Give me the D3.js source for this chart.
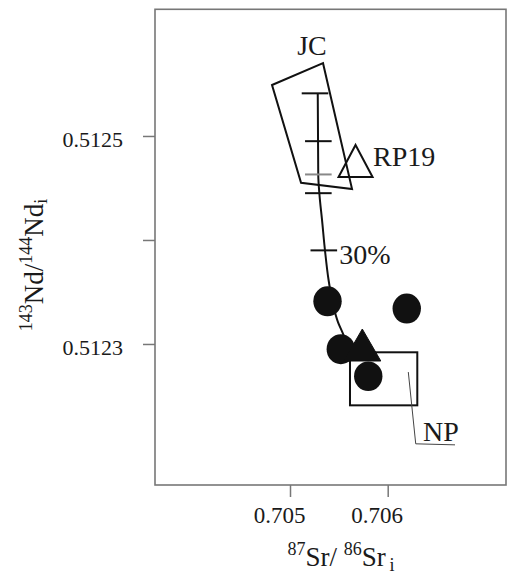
<!DOCTYPE html>
<html>
<head>
<meta charset="utf-8">
<script src="https://cdn.jsdelivr.net/npm/d3@7/dist/d3.min.js"></script>
<style>
  html, body { margin: 0; padding: 0; background: #fff; }
  svg { display: block; }
  text { font-family: "Liberation Serif", "Times New Roman", serif; fill: #1a1a1a; }
</style>
</head>
<body>
<div id="chart"></div>
<script>
// Sr–Nd isotope diagram: 87Sr/86Sr(i) vs 143Nd/144Nd(i)

const xTicks = [0.705, 0.706];
const xTickLabels = ["0.705", "0.706"];
const yTicks = [0.5125, 0.5124, 0.5123];
const yTickLabels = ["0.5125", "", "0.5123"];

// Mixing curve (Sr, Nd)
const mixSr = [0.705284, 0.705289, 0.705302, 0.705328, 0.705358, 0.705394, 0.705440, 0.705491, 0.705546, 0.705583];
const mixNd = [0.512541, 0.512463, 0.512443, 0.512419, 0.512390, 0.512362, 0.512338, 0.512321, 0.512309, 0.512299];

// Increment marks along the mixing curve
const markSr = [0.705256, 0.705290, 0.705290, 0.705290, 0.705346];
const markNd = [0.512541, 0.512495, 0.512463, 0.512445, 0.512390];
const markTone = ["#111", "#111", "#888", "#111", "#111"];

// JC field outline
const jcSr = [0.704816, 0.705338, 0.705635, 0.705113];
const jcNd = [0.512549, 0.512570, 0.512449, 0.512455];

// NP field (rectangle corners)
const npSr = [0.705614, 0.706303];
const npNd = [0.512292, 0.512241];
// NP leader line
const npLeadSr = [0.706211, 0.706287, 0.706689];
const npLeadNd = [0.512273, 0.512204, 0.512203];

// Samples
const circleSr = [0.705384, 0.706195, 0.705520, 0.705801];
const circleNd = [0.512341, 0.512334, 0.512295, 0.512269];
const solidTriSr = [0.705740];
const solidTriNd = [0.512299];
const openTriSr = [0.705671];
const openTriNd = [0.512476];

// Labels
const labelText = ["JC", "RP19", "30%", "NP"];
const labelSr = [0.705225, 0.705850, 0.705505, 0.706361];
const labelNd = [0.512578, 0.512471, 0.512377, 0.512207];
const labelAnchor = ["middle", "start", "start", "start"];

const W = 507, H = 577;
const svg = d3.select("#chart").append("svg").attr("width", W).attr("height", H);

const x = d3.scaleLinear().domain([0.703618, 0.707211]).range([155, 506]);
const y = d3.scaleLinear().domain([0.5121644, 0.5126218]).range([485, 9.3]);

const frameColor = "#777";

// Axes
const gx = svg.append("g").attr("transform", `translate(0,${y.range()[0]})`)
  .call(d3.axisBottom(x).tickValues(xTicks).tickFormat((d, i) => xTickLabels[i]).tickSize(12).tickPadding(10));
gx.select(".domain").remove();
gx.selectAll("line").attr("stroke", frameColor).attr("stroke-width", 1.5);
gx.selectAll("text").attr("font-size", 23).attr("dx", -11).attr("fill", "#1a1a1a")
  .style("font-family", '"Liberation Serif", serif');

const gy = svg.append("g").attr("transform", `translate(${x.range()[0]},0)`)
  .call(d3.axisLeft(y).tickValues(yTicks).tickFormat((d, i) => yTickLabels[i]).tickSize(12).tickPadding(20));
gy.select(".domain").remove();
gy.selectAll("line").attr("stroke", frameColor).attr("stroke-width", 1.5);
gy.selectAll("text").attr("font-size", 22).attr("dy", "0.5em").attr("fill", "#1a1a1a")
  .style("font-family", '"Liberation Serif", serif');

// Frame
svg.append("rect")
  .attr("x", x.range()[0]).attr("y", y.range()[1])
  .attr("width", x.range()[1] - x.range()[0]).attr("height", y.range()[0] - y.range()[1])
  .attr("fill", "none").attr("stroke", frameColor).attr("stroke-width", 1.6);

const plot = svg.append("g");

// JC field
plot.append("path")
  .attr("d", d3.line()(jcSr.map((s, i) => [x(s), y(jcNd[i])])) + "Z")
  .attr("fill", "none").attr("stroke", "#111").attr("stroke-width", 2);

// NP field
plot.append("rect")
  .attr("x", x(npSr[0])).attr("y", y(npNd[0]))
  .attr("width", x(npSr[1]) - x(npSr[0])).attr("height", y(npNd[1]) - y(npNd[0]))
  .attr("fill", "none").attr("stroke", "#111").attr("stroke-width", 2);

plot.append("path")
  .attr("d", d3.line()(npLeadSr.map((s, i) => [x(s), y(npLeadNd[i])])))
  .attr("fill", "none").attr("stroke", "#444").attr("stroke-width", 1);

// Mixing curve
plot.append("path")
  .attr("d", d3.line().curve(d3.curveMonotoneY)(mixSr.map((s, i) => [x(s), y(mixNd[i])])))
  .attr("fill", "none").attr("stroke", "#111").attr("stroke-width", 2);

plot.selectAll("line.mark").data(markSr).join("line")
  .attr("class", "mark")
  .attr("x1", d => x(d) - 13.3).attr("x2", d => x(d) + 13.3)
  .attr("y1", (d, i) => y(markNd[i])).attr("y2", (d, i) => y(markNd[i]))
  .attr("stroke", (d, i) => markTone[i]).attr("stroke-width", 2);

// Open triangle (RP19)
const tri = (cx, cy, hw, h) => `M${cx},${cy - h / 2}L${cx + hw},${cy + h / 2}L${cx - hw},${cy + h / 2}Z`;
plot.selectAll("path.otri").data(openTriSr).join("path")
  .attr("class", "otri")
  .attr("d", (d, i) => tri(x(d), y(openTriNd[i]), 17, 32))
  .attr("fill", "none").attr("stroke", "#111").attr("stroke-width", 2);

// Filled samples
plot.selectAll("ellipse.smp").data(circleSr.slice(0, 3)).join("ellipse")
  .attr("class", "smp")
  .attr("cx", d => x(d)).attr("cy", (d, i) => y(circleNd[i]))
  .attr("rx", 14.2).attr("ry", 15).attr("fill", "#111");

plot.selectAll("path.stri").data(solidTriSr).join("path")
  .attr("class", "stri")
  .attr("d", (d, i) => tri(x(d), y(solidTriNd[i]), 18.5, 32))
  .attr("fill", "#111").attr("stroke", "#111").attr("stroke-width", 1);

plot.selectAll("ellipse.smp2").data(circleSr.slice(3)).join("ellipse")
  .attr("class", "smp2")
  .attr("cx", d => x(d)).attr("cy", (d, i) => y(circleNd[i + 3]))
  .attr("rx", 14.2).attr("ry", 14.8).attr("fill", "#111");

// Labels
plot.selectAll("text.lbl").data(labelText).join("text")
  .attr("class", "lbl")
  .attr("x", (d, i) => x(labelSr[i])).attr("y", (d, i) => y(labelNd[i]))
  .attr("text-anchor", (d, i) => labelAnchor[i])
  .attr("font-size", 28)
  .text(d => d);

// Axis titles
const xt = svg.append("text").attr("x", 341).attr("y", 566).attr("text-anchor", "middle").attr("font-size", 27);
xt.append("tspan").attr("font-size", 18).attr("dy", -11).text("87");
xt.append("tspan").attr("dy", 11).text("Sr/ ");
xt.append("tspan").attr("font-size", 18).attr("dy", -11).text("86");
xt.append("tspan").attr("dy", 11).text("Sr");
xt.append("tspan").attr("font-size", 18).attr("dy", 5).text("\u2009i");

const yt = svg.append("text").attr("transform", "translate(43,265) rotate(-90)")
  .attr("text-anchor", "middle").attr("font-size", 27);
yt.append("tspan").attr("font-size", 18).attr("dy", -11).text("143");
yt.append("tspan").attr("dy", 11).text("Nd/");
yt.append("tspan").attr("font-size", 18).attr("dy", -11).text("144");
yt.append("tspan").attr("dy", 11).text("Nd");
yt.append("tspan").attr("font-size", 18).attr("dy", 4).text("i");
</script>
</body>
</html>
